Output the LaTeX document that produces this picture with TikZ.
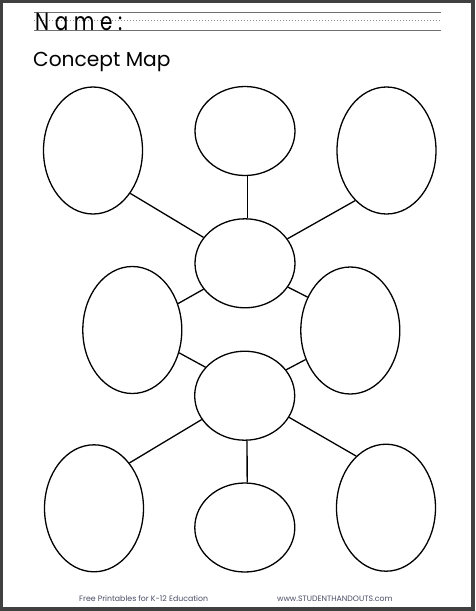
\documentclass[tikz,border=0pt]{standalone}
\usepackage{fontspec}
\newfontfamily\pop{Poppins}
\usetikzlibrary{shapes.geometric}
\definecolor{pagegray}{HTML}{404040}
\definecolor{linegray}{HTML}{707070}
\definecolor{footgray}{HTML}{4A4E66}
\tikzset{
  bigell/.style={ellipse, draw=black, line width=1.3pt, minimum width=99pt, minimum height=127pt, inner sep=0pt},
  smallell/.style={ellipse, draw=black, line width=1.3pt, minimum width=100pt, minimum height=89pt, inner sep=0pt},
  link/.style={draw=black, line width=1.3pt},
  writeline/.style={draw=linegray, line width=1pt},
  dotline/.style={draw=linegray!80, line width=0.8pt, dash pattern=on 1pt off 2pt},
  foot/.style={anchor=base west, inner sep=0pt, text=footgray, font=\pop\fontsize{7.8}{9}\selectfont}
}
\begin{document}
\begin{tikzpicture}[x=1pt,y=-1pt]
\fill[pagegray] (0,0) rectangle (475,611);
\fill[white] (3,3) rectangle (471,607);
\useasboundingbox (0,0) rectangle (475,611);
% writing lines
\coordinate (l1a) at (34,12.3); \coordinate (l1b) at (441,12.3);
\coordinate (l2a) at (34,20.7); \coordinate (l2b) at (441,20.7);
\coordinate (l3a) at (34,30.7); \coordinate (l3b) at (441,30.7);
\draw[writeline] (l1a) -- (l1b);
\draw[dotline] (l2a) -- (l2b);
\draw[writeline] (l3a) -- (l3b);
\node[anchor=base west, inner sep=0pt] (name) at (35,30.5) {\scalebox{0.8}[1]{\pop\fontsize{25}{25}\selectfont\addfontfeature{LetterSpace=28}Name:}};
\node[anchor=base west, inner sep=0pt] (title) at (33,66) {\pop\fontsize{20.2}{22}\selectfont Concept Map};
% ellipses
\node[bigell] (tl) at (93,150.5) {};
\node[smallell] (tm) at (245,131) {};
\node[bigell] (tr) at (386.5,150.5) {};
\node[smallell] (cu) at (245,263.3) {};
\node[bigell] (ml) at (132.3,330) {};
\node[bigell] (mr) at (350.3,330.5) {};
\node[smallell] (cl) at (244.7,395.7) {};
\node[bigell] (bl) at (94,508.3) {};
\node[smallell] (bm) at (244.8,527.5) {};
\node[bigell] (br) at (386,507.7) {};
% connectors
\draw[link] (tl.-49) -- (cu.148);
\draw[link] (tm.-87) -- (cu.87);
\draw[link] (tr.-122.5) -- (cu.30);
\draw[link] (ml.30) -- (cu.-148);
\draw[link] (cu.-29) -- (mr.142);
\draw[link] (ml.-26) -- (cl.144);
\draw[link] (mr.-147) -- (cl.32);
\draw[link] (cl.-151) -- (bl.52);
\draw[link] (cl.-87) -- (bm.87);
\draw[link] (cl.-26) -- (br.120);
% footer
\node[foot] (f1) at (79,601) {Free Printables for K-12 Education};
\node[foot] (f2) at (277,601) {www.STUDENTHANDOUTS.com};
\end{tikzpicture}
\end{document}
